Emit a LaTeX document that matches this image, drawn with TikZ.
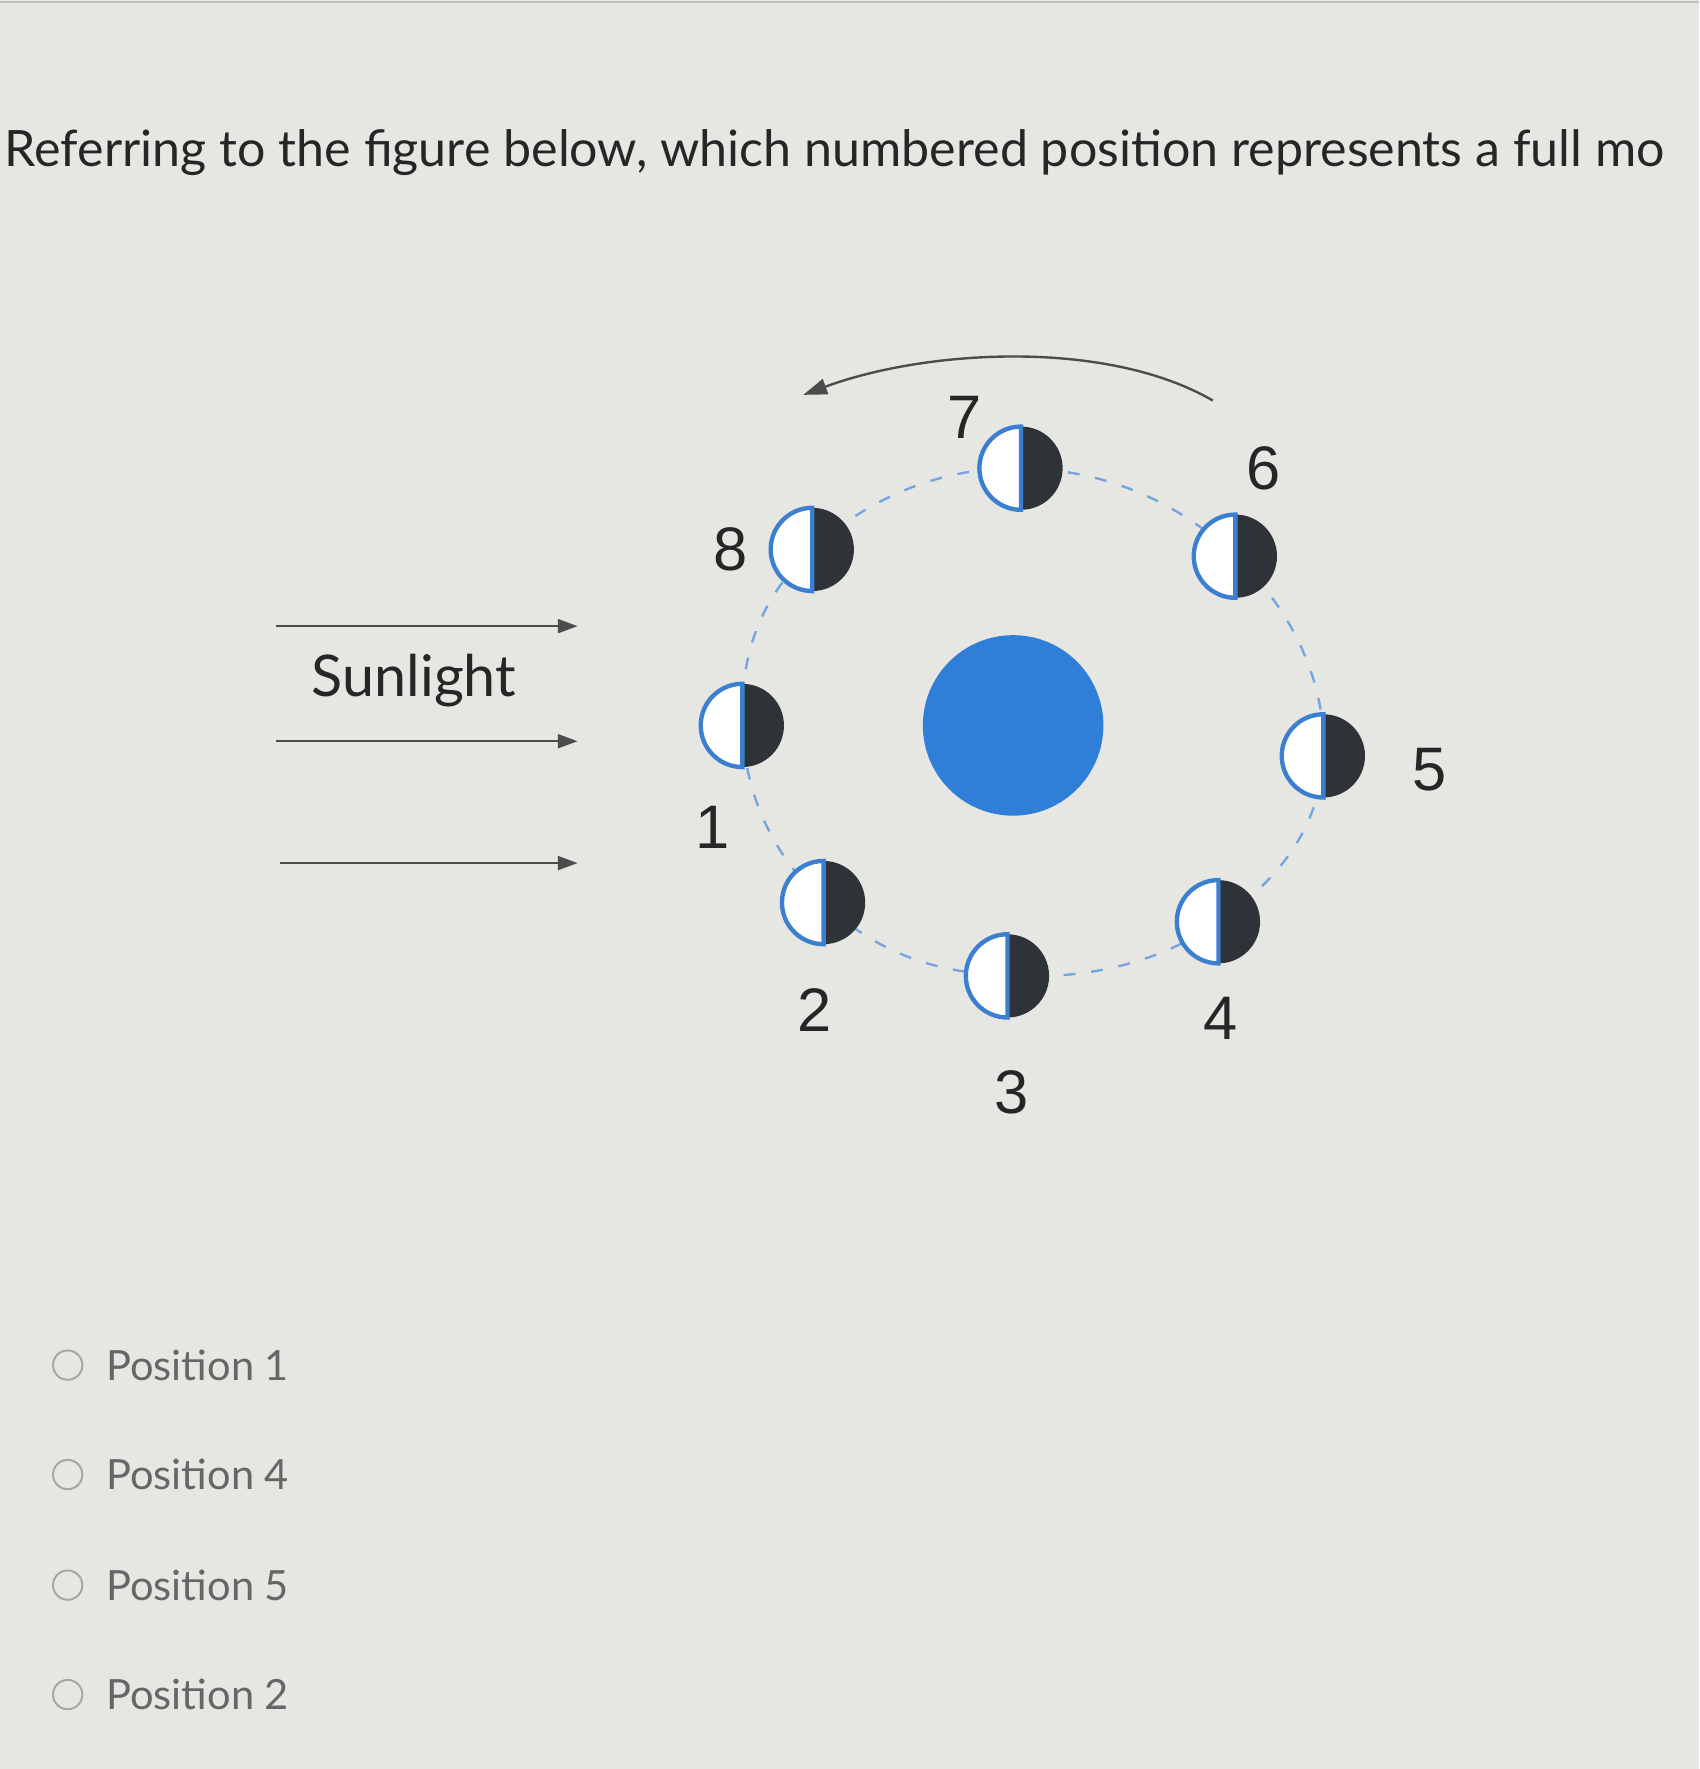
\documentclass[tikz,border=0pt]{standalone}
\usepackage{fontspec}
\setmainfont{Liberation Sans}
\newfontfamily\lato{Lato}
\usetikzlibrary{arrows.meta}
\definecolor{bg}{HTML}{E6E6E3}
\definecolor{moonblue}{HTML}{3C7FD0}
\definecolor{dark}{HTML}{2E3338}
\definecolor{earth}{HTML}{2F7ED8}
\begin{document}
\begin{tikzpicture}[x=0.02cm,y=-0.02cm,
  lab/.style={font=\fontsize{31}{31}\selectfont, text=black!85},
  opt/.style={font=\lato\fontsize{21}{21}\selectfont, text=black!60, anchor=west},
  ray/.style={draw=black!70, line width=1.2pt, -{Triangle[length=10pt,width=7pt]}},
  orbit/.style={draw=moonblue!70, line width=1.2pt, dash pattern=on 6pt off 8pt}]
\fill[bg] (0,0) rectangle (1506,1568);
\useasboundingbox (0,0) rectangle (1506,1568);
\draw[black!25, line width=1pt] (0,2) -- (1506,2);
\node[anchor=west, font=\lato\fontsize{25.3}{25.3}\selectfont, text=black!85, inner sep=0pt] (title) at (4,135) {Referring to the figure below, which numbered position represents a full mo};
% orbit
\draw[orbit] plot[smooth cycle, tension=0.7] coordinates {(905,415) (1095,493) (1173,670) (1080,817) (893,865) (730,800) (658,643) (720,487)};
% top arrow
\coordinate (ta) at (1075,355);
\coordinate (tb) at (712,350);
\draw[black!70, line width=1.2pt, -{Triangle[length=12pt,width=8pt]}] (ta) .. controls (980,300) and (820,310) .. (tb);
% earth
\fill[earth] (898,643) circle (80);
% moons
\foreach \x/\y in {905/415, 720/487, 1095/493, 658/643, 1173/670, 730/800, 1080/817, 893/865}{
  \begin{scope}[shift={(\x,\y)}]
  \fill[white] (0pt,0pt) circle[radius=21pt];
  \fill[dark] (0pt,21pt) arc[start angle=90,end angle=-90,radius=21pt] -- cycle;
  \draw[moonblue, line width=2.2pt] (0pt,21pt) arc[start angle=90,end angle=270,radius=21pt] -- cycle;
  \end{scope}
}
\node[lab] (l7) at (855,370) {7};
\node[lab] (l6) at (1120,415) {6};
\node[lab] (l8) at (648,487) {8};
\node[lab] (l5) at (1267,682) {5};
\node[lab] (l1) at (632,733) {1};
\node[lab] (l2) at (722,895) {2};
\node[lab] (l4) at (1082,903) {4};
\node[lab] (l3) at (897,968) {3};
% sunlight
\coordinate (s1a) at (245,555); \coordinate (s1b) at (512,555);
\coordinate (s2a) at (245,657); \coordinate (s2b) at (512,657);
\coordinate (s3a) at (248,765); \coordinate (s3b) at (512,765);
\draw[ray] (s1a) -- (s1b);
\draw[ray] (s2a) -- (s2b);
\draw[ray] (s3a) -- (s3b);
\node[font=\lato\fontsize{29}{29}\selectfont, text=black!85] (sun) at (367,603) {Sunlight};
% options
\foreach \y/\t in {1210/1, 1307/4, 1405/5, 1502/2}{
  \draw[black!35, line width=1pt] (60,\y) circle (13);
  \node[opt] at (88,\y) {Position \t};
}
\end{tikzpicture}
\end{document}
